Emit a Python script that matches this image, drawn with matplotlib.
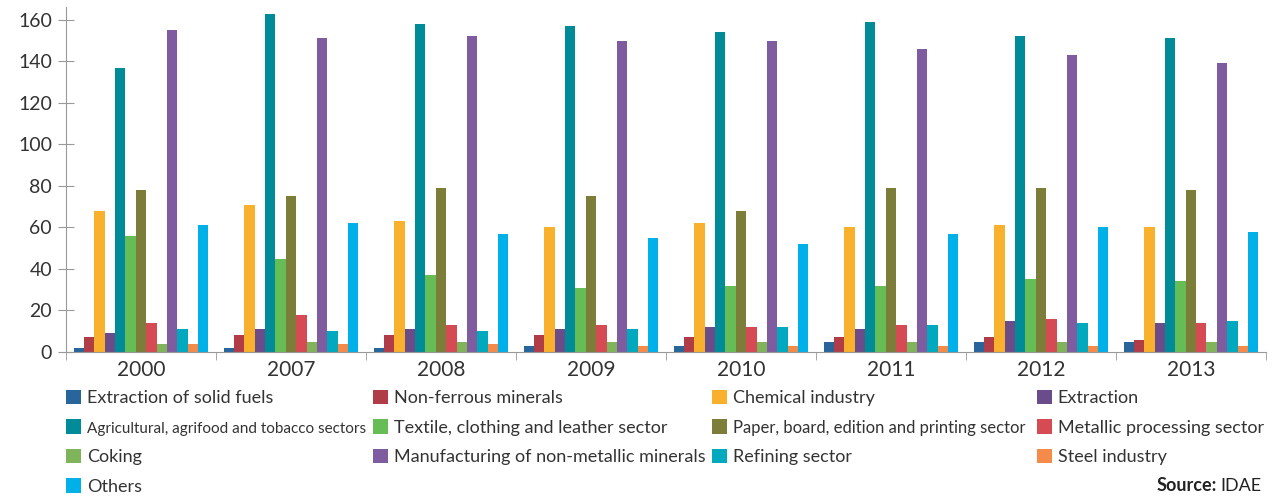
import matplotlib.pyplot as plt
import numpy as np

plt.rcParams['font.family'] = ['Lato', 'DejaVu Sans']

years = ['2000', '2007', '2008', '2009', '2010', '2011', '2012', '2013']

sectors = ['Extraction of solid fuels', 'Non-ferrous minerals', 'Chemical industry', 'Extraction',
           'Agricultural, agrifood and tobacco sectors', 'Textile, clothing and leather sector',
           'Paper, board, edition and printing sector', 'Metallic processing sector',
           'Coking', 'Manufacturing of non-metallic minerals', 'Refining sector',
           'Steel industry', 'Others']

colors = ['#27659a', '#b03c48', '#f9b02c', '#6b4c8a', '#008b98', '#66bd55', '#7c7d38',
          '#d64a53', '#7fb45a', '#7f5ba0', '#00a9bd', '#f48b4a', '#00b0e8']

solid_fuels = [2, 2, 2, 3, 3, 5, 5, 5]
non_ferrous = [7, 8, 8, 8, 7, 7, 7, 6]
chemical = [68, 71, 63, 60, 62, 60, 61, 60]
extraction = [9, 11, 11, 11, 12, 11, 15, 14]
agrifood = [137, 163, 158, 157, 154, 159, 152, 151]
textile = [56, 45, 37, 31, 32, 32, 35, 34]
paper = [78, 75, 79, 75, 68, 79, 79, 78]
metallic = [14, 18, 13, 13, 12, 13, 16, 14]
coking = [4, 5, 5, 5, 5, 5, 5, 5]
non_metallic = [155, 151, 152, 150, 150, 146, 143, 139]
refining = [11, 10, 10, 11, 12, 13, 14, 15]
steel = [4, 4, 4, 3, 3, 3, 3, 3]
others = [61, 62, 57, 55, 52, 57, 60, 58]

series = [solid_fuels, non_ferrous, chemical, extraction, agrifood, textile, paper,
          metallic, coking, non_metallic, refining, steel, others]

fig = plt.figure(figsize=(12.74, 4.96), dpi=100)
ax = fig.add_axes([0.0518, 0.2903, 0.9419, 0.695])

x = np.arange(len(years))
bw = 0.069
handles = []
for i, vals in enumerate(series):
    b = ax.bar(x + (i - 6) * bw, vals, bw, color=colors[i], label=sectors[i])
    handles.append(b)

ax.set_xlim(-0.5, len(years) - 0.5)
ax.set_ylim(0, 166)
ax.set_yticks(range(0, 161, 20))
ax.set_xticks(x)
ax.set_xticklabels(years)
ax.set_xticks(np.arange(-0.5, len(years)), minor=True)
ax.tick_params(axis='x', which='major', length=0, labelsize=15, colors='#333333', pad=6)
ax.tick_params(axis='x', which='minor', length=6, color='#999999', direction='out')
ax.tick_params(axis='y', length=12, direction='inout', color='#999999', labelsize=14,
               labelcolor='#333333', pad=4)
for s in ['top', 'right']:
    ax.spines[s].set_visible(False)
for s in ['left', 'bottom']:
    ax.spines[s].set_color('#999999')

# legend: four columns placed like the original
columns = [[0, 4, 8, 12], [1, 5, 9], [2, 6, 10], [3, 7, 11]]
col_x = [0.0518, 0.2928, 0.5589, 0.814]
for cx, idx in zip(col_x, columns):
    leg = fig.legend([handles[i] for i in idx], [sectors[i] for i in idx],
                     loc='upper left', bbox_to_anchor=(cx, 0.214), frameon=False,
                     fontsize=13, handlelength=0.85, handleheight=0.85, handletextpad=0.3,
                     labelspacing=0.72, borderaxespad=0, borderpad=0)
    for t in leg.get_texts():
        t.set_color('#333333')
        if t.get_text().startswith('Agricultural'):
            t.set_fontsize(11)
        if t.get_text().startswith('Paper'):
            t.set_fontsize(12)

fig.text(0.9905, 0.005, 'IDAE', ha='right', va='bottom', fontsize=13, color='#222222')
fig.text(0.9555, 0.005, 'Source:', ha='right', va='bottom', fontsize=13, color='#222222',
         fontweight='bold')

fig.savefig('out.png', dpi=100)
